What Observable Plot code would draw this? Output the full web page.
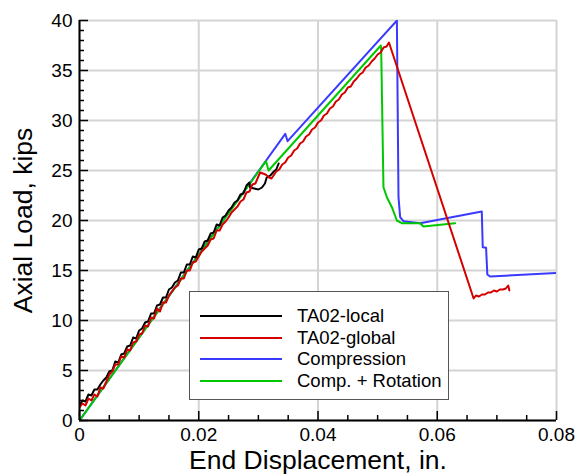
<!DOCTYPE html>
<html>
<head>
<meta charset="utf-8">
<script src="https://cdn.jsdelivr.net/npm/d3@7"></script>
<script src="https://cdn.jsdelivr.net/npm/@observablehq/plot@0.6"></script>
<style>
  html, body { margin: 0; padding: 0; background: #fff; }
  #chart { position: relative; width: 587px; height: 475px; font-family: "Liberation Sans", Arial, Helvetica, sans-serif; }
  #legend { position: absolute; left: 189px; top: 291px; width: 260px; height: 109px; box-sizing: border-box;
            border: 1.5px solid #555; background: #fff; padding-top: 13px; }
  .row { display: flex; align-items: center; height: 21.7px; }
  .swatch { width: 82px; height: 0; border-top: 2px solid; margin-left: 10px; margin-right: 15px; }
  .lab { font-size: 18.5px; color: #000; white-space: nowrap; }
</style>
</head>
<body>
<div id="chart"></div>
<script>
// Series names and colours
const seriesNames = ["TA02-local", "TA02-global", "Compression", "Comp. + Rotation"];
const seriesColors = ["#000000", "#d40000", "#3a3aff", "#00c800"];

// Compression (blue)
const compX = [0, 0.03451, 0.0349, 0.05323, 0.0535, 0.05378, 0.05433, 0.05713, 0.06747, 0.06763, 0.06819, 0.0684, 0.06886, 0.08];
const compY = [0, 28.67, 27.93, 40.0, 22.33, 20.33, 19.93, 19.73, 20.9, 17.33, 17.27, 14.6, 14.4, 14.75];

// Comp. + Rotation (green)
const rotX = [0, 0.03128, 0.03171, 0.05054, 0.0506, 0.05098, 0.05155, 0.05239, 0.05323, 0.05406, 0.05713, 0.05768, 0.06299];
const rotY = [0, 25.93, 25.0, 37.5, 37.0, 23.33, 22.33, 21.33, 20.0, 19.73, 19.73, 19.4, 19.73];

// TA02-global (red), measured
const globalX = [
  0.0000, 0.0005, 0.0010, 0.0015, 0.0020, 0.0025, 0.0030, 0.0035, 0.0040, 0.0045,
  0.0050, 0.0055, 0.0060, 0.0065, 0.0070, 0.0075, 0.0080, 0.0085, 0.0090, 0.0095,
  0.0100, 0.0105, 0.0110, 0.0115, 0.0120, 0.0125, 0.0130, 0.0135, 0.0140, 0.0145,
  0.0150, 0.0155, 0.0160, 0.0165, 0.0170, 0.0175, 0.0180, 0.0185, 0.0190, 0.0195,
  0.0200, 0.0205, 0.0210, 0.0215, 0.0220, 0.0225, 0.0230, 0.0235, 0.0240, 0.0245,
  0.0250, 0.0255, 0.0260, 0.0265, 0.0270, 0.0275, 0.0280, 0.0285, 0.0290, 0.0295,
  0.0300, 0.0303, 0.0312, 0.0318, 0.0322,
  0.0330, 0.0335, 0.0340, 0.0345, 0.0350, 0.0355, 0.0360, 0.0365, 0.0370, 0.0375,
  0.0380, 0.0385, 0.0390, 0.0395, 0.0400, 0.0405, 0.0410, 0.0415, 0.0420, 0.0425,
  0.0430, 0.0435, 0.0440, 0.0445, 0.0450, 0.0455, 0.0460, 0.0465, 0.0470, 0.0475,
  0.0480, 0.0485, 0.0490, 0.0495, 0.0500, 0.0505, 0.0510, 0.0515, 0.0519,
  0.0661, 0.0665, 0.0670, 0.0675, 0.0680, 0.0685, 0.0690, 0.0695, 0.0700, 0.0705,
  0.0710, 0.0715, 0.0719, 0.0721
];
const globalY = [
  1.3, 1.7, 1.5, 2.2, 2.0, 2.6, 2.4, 3.3, 3.2, 3.9,
  4.6, 4.9, 5.6, 5.6, 6.4, 6.3, 7.1, 7.0, 7.8, 7.9,
  8.6, 8.7, 9.5, 9.4, 10.3, 10.2, 11.2, 10.9, 11.8, 11.8,
  12.5, 12.9, 13.3, 13.5, 14.2, 14.2, 15.0, 15.0, 15.8, 15.9,
  16.4, 16.9, 17.2, 17.5, 18.1, 18.2, 19.0, 19.0, 19.6, 19.9,
  20.3, 20.8, 21.1, 21.4, 21.9, 22.1, 22.8, 22.9, 23.6, 23.7,
  24.4, 24.8, 24.6, 24.3, 24.2,
  24.9, 25.1, 25.6, 25.8, 26.3, 26.5, 27.0, 27.2, 27.7, 27.9,
  28.4, 28.6, 29.1, 29.3, 29.8, 30.0, 30.5, 30.7, 31.2, 31.4,
  31.9, 32.1, 32.6, 32.8, 33.3, 33.4, 33.9, 34.2, 34.6, 34.8,
  35.3, 35.5, 35.9, 36.2, 36.6, 36.8, 37.3, 37.4, 37.8,
  12.2, 12.5, 12.4, 12.6, 12.6, 12.8, 12.8, 13.0, 12.9, 13.1,
  13.1, 13.2, 13.5, 13.0
];

// TA02-local (black), measured
const localX = [
  0.0000, 0.0005, 0.0010, 0.0015, 0.0020, 0.0025, 0.0030, 0.0035, 0.0040, 0.0045,
  0.0050, 0.0055, 0.0060, 0.0065, 0.0070, 0.0075, 0.0080, 0.0085, 0.0090, 0.0095,
  0.0100, 0.0105, 0.0110, 0.0115, 0.0120, 0.0125, 0.0130, 0.0135, 0.0140, 0.0145,
  0.0150, 0.0155, 0.0160, 0.0165, 0.0170, 0.0175, 0.0180, 0.0185, 0.0190, 0.0195,
  0.0200, 0.0205, 0.0210, 0.0215, 0.0220, 0.0225, 0.0230, 0.0235, 0.0240, 0.0245,
  0.0250, 0.0255, 0.0260, 0.0265, 0.0270, 0.0275, 0.0280, 0.0285, 0.0286, 0.0293,
  0.0300, 0.0306, 0.0311, 0.0314, 0.0320, 0.0326, 0.0330, 0.0334
];
const localY = [
  1.5, 2.0, 1.9, 2.6, 2.5, 3.1, 3.1, 3.6, 4.0, 4.3,
  4.9, 5.0, 5.9, 5.8, 6.6, 6.7, 7.4, 7.5, 8.3, 8.2,
  9.0, 9.2, 9.8, 9.9, 10.7, 10.7, 11.5, 11.6, 12.3, 12.3,
  13.1, 13.3, 13.8, 14.0, 14.8, 14.8, 15.6, 15.6, 16.4, 16.3,
  17.1, 17.2, 17.9, 18.0, 18.7, 18.8, 19.6, 19.5, 20.3, 20.5,
  21.0, 21.3, 21.8, 22.0, 22.6, 22.7, 23.5, 23.8, 23.3, 23.2,
  23.1, 23.3, 23.7, 24.3, 24.5, 24.9, 25.1, 25.7
];

// Ticks
const xTicks = [0, 0.02, 0.04, 0.06, 0.08];
const xMinor = [0.005, 0.01, 0.015, 0.025, 0.03, 0.035, 0.045, 0.05, 0.055, 0.065, 0.07, 0.075];
const yTicks = [0, 5, 10, 15, 20, 25, 30, 35, 40];
const yMinor = d3.range(0, 41).filter(v => v % 5 !== 0);

const xTitle = "End Displacement, in.";
const yTitle = "Axial Load, kips";

const toRows = (xs, ys) => xs.map((x, i) => ({x, y: ys[i]}));
const local = toRows(localX, localY);
const global = toRows(globalX, globalY);
const comp = toRows(compX, compY);
const rot = toRows(rotX, rotY);

const gridStyle = {stroke: "#d4d4d4", strokeWidth: 2, strokeOpacity: 1};
const lineStyle = (c) => ({x: "x", y: "y", stroke: c, strokeWidth: 2, strokeLinejoin: "round", clip: true});

const chart = Plot.plot({
  width: 587,
  height: 475,
  marginLeft: 79,
  marginRight: 31,
  marginTop: 20,
  marginBottom: 55,
  style: {fontFamily: '"Liberation Sans", Arial, Helvetica, sans-serif', background: "#fff", color: "#000"},
  x: {domain: [0, 0.08]},
  y: {domain: [0, 40]},
  marks: [
    Plot.gridX(xTicks, gridStyle),
    Plot.gridY(yTicks, gridStyle),
    Plot.line(comp, lineStyle(seriesColors[2])),
    Plot.line(rot, lineStyle(seriesColors[3])),
    Plot.line(local, lineStyle(seriesColors[0])),
    Plot.line(global, lineStyle(seriesColors[1])),
    // inward major and minor ticks
    Plot.axisX(xTicks, {tickSize: 9, dy: -9, tickFormat: () => "", label: null, stroke: "#000", strokeWidth: 1.5}),
    Plot.axisX(xMinor, {tickSize: 5, dy: -5, tickFormat: () => "", label: null, stroke: "#000", strokeWidth: 1.5}),
    Plot.axisY(yTicks, {tickSize: 9, dx: 9, tickFormat: () => "", label: null, stroke: "#000", strokeWidth: 1.5}),
    Plot.axisY(yMinor, {tickSize: 5, dx: 5, tickFormat: () => "", label: null, stroke: "#000", strokeWidth: 1.5}),
    // tick labels
    Plot.axisX(xTicks, {tickSize: 0, tickPadding: 7, fontSize: 19, tickFormat: d => d === 0 ? "0" : d.toFixed(2), label: null}),
    Plot.axisY(yTicks, {tickSize: 0, tickPadding: 7, fontSize: 19, label: null}),
    // axis lines
    Plot.ruleX([0], {stroke: "#000", strokeWidth: 2}),
    Plot.ruleY([0], {stroke: "#000", strokeWidth: 2}),
    // axis titles
    Plot.text([xTitle], {frameAnchor: "bottom", dy: 40, fontSize: 26.5, lineAnchor: "middle", textAnchor: "middle"}),
    Plot.text([yTitle], {frameAnchor: "left", dx: -56, rotate: -90, fontSize: 26.5, lineAnchor: "middle", textAnchor: "middle"})
  ]
});

const host = document.getElementById("chart");
host.appendChild(chart);

// Legend box drawn over the plot area
const legend = document.createElement("div");
legend.id = "legend";
seriesNames.forEach((name, i) => {
  const row = document.createElement("div");
  row.className = "row";
  const sw = document.createElement("div");
  sw.className = "swatch";
  sw.style.borderTopColor = seriesColors[i];
  const lab = document.createElement("span");
  lab.className = "lab";
  lab.textContent = name;
  row.appendChild(sw);
  row.appendChild(lab);
  legend.appendChild(row);
});
host.appendChild(legend);
</script>
</body>
</html>
